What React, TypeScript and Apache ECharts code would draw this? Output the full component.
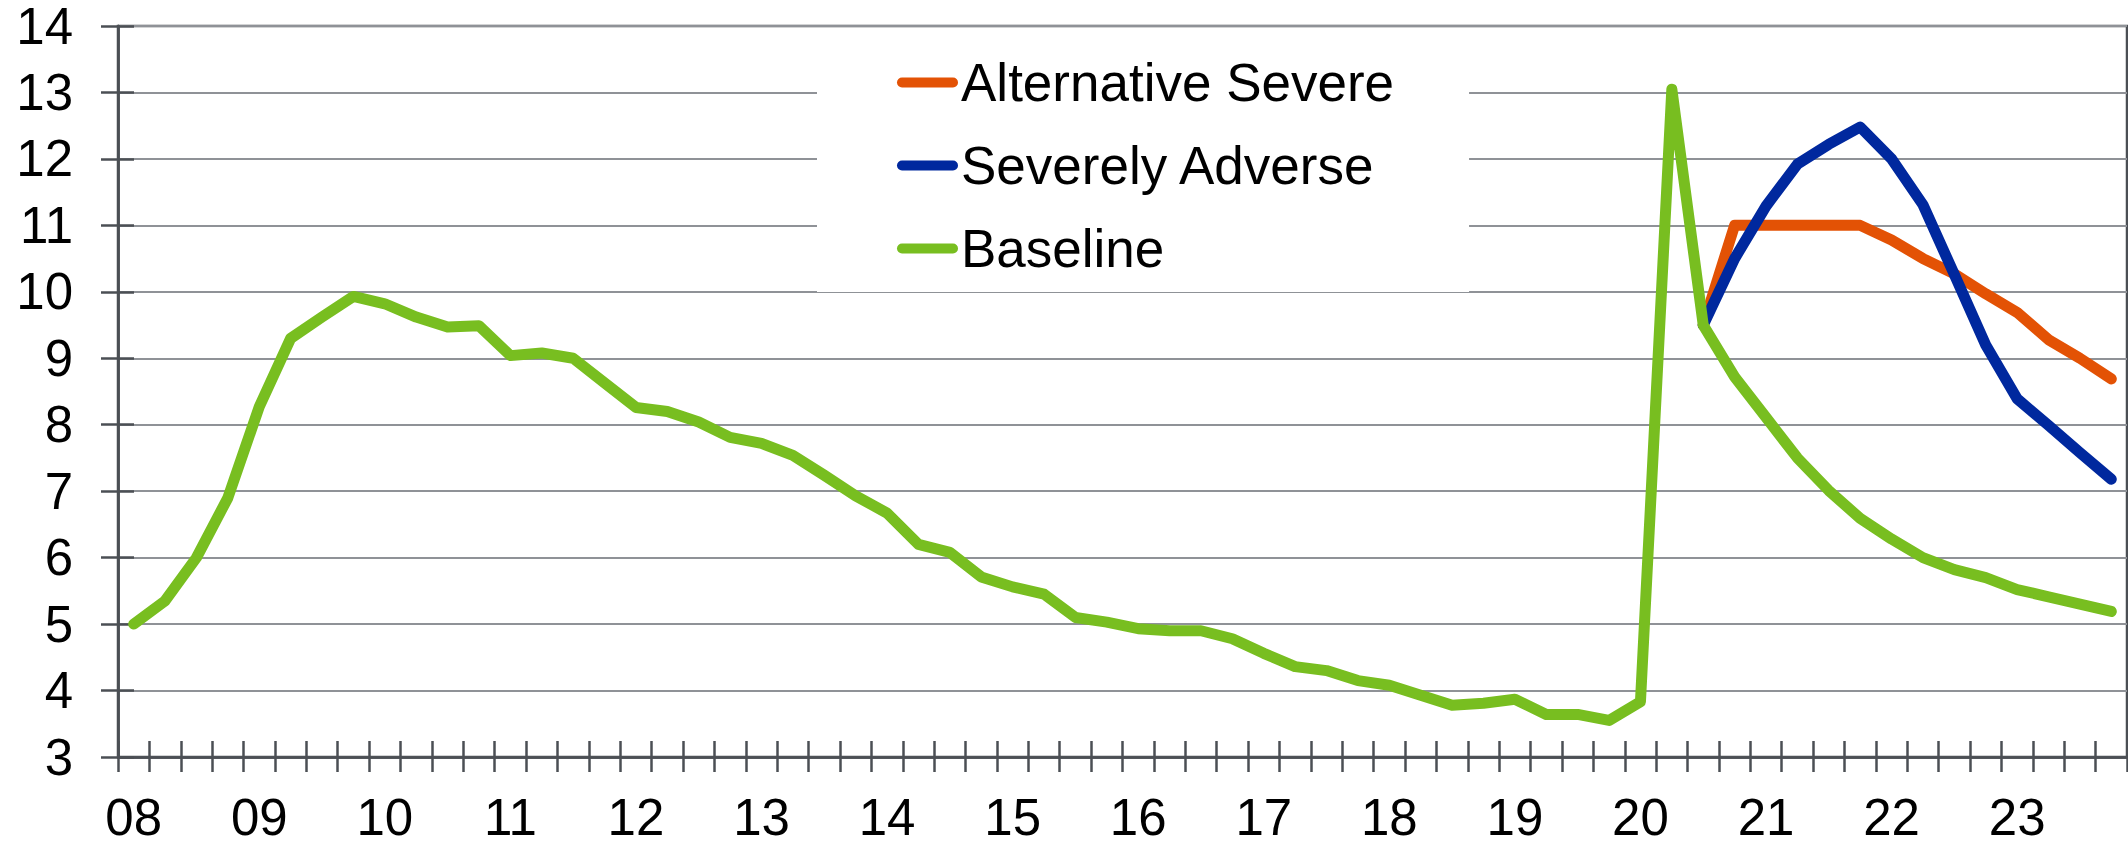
import React, { useEffect, useRef } from "react";
import * as echarts from "echarts";

const years = ["08", "09", "10", "11", "12", "13", "14", "15", "16", "17", "18", "19", "20", "21", "22", "23"];
const quarters = ["Q1", "Q2", "Q3", "Q4"];
const categories = years.flatMap((y) => quarters.map((q) => `${y} ${q}`));

const yTicks = { min: 3, max: 14, interval: 1 };

const baseline = [
  5.0, 5.35, 6.0, 6.9, 8.27, 9.3, 9.62, 9.93, 9.82, 9.62, 9.47, 9.49, 9.04, 9.08, 9.0, 8.63,
  8.26, 8.2, 8.04, 7.81, 7.72, 7.54, 7.24, 6.93, 6.67, 6.2, 6.08, 5.71, 5.56, 5.45, 5.1, 5.03,
  4.93, 4.9, 4.9, 4.78, 4.56, 4.36, 4.3, 4.15, 4.08, 3.93, 3.78, 3.81, 3.87, 3.64, 3.64, 3.55,
  3.83, 13.05, 9.5, 8.72, 8.11, 7.5, 7.01, 6.59, 6.28, 6.0, 5.82, 5.7, 5.52, 5.41, 5.3, 5.19,
];

const severelyAdverseTail = [9.5, 10.5, 11.29, 11.92, 12.22, 12.48, 12.0, 11.31, 10.26, 9.2, 8.39, 7.99, 7.58, 7.18];
const alternativeSevereTail = [9.5, 11.0, 11.0, 11.0, 11.0, 11.0, 10.78, 10.5, 10.27, 9.97, 9.69, 9.28, 9.0, 8.69];

const seriesNames = ["Alternative Severe", "Severely Adverse", "Baseline"];
const seriesColors = ["#E35205", "#00289E", "#78BE20"];

function padFront(tail: number[]): (number | null)[] {
  const n = categories.length - tail.length;
  return [...new Array(n).fill(null), ...tail];
}

const FONT = "'Liberation Sans', Arial, Helvetica, sans-serif";
const AXIS_COLOR = "#4B4F54";
const GRID_COLOR = "#8F9297";

export default function App() {
  const ref = useRef<HTMLDivElement>(null);

  useEffect(() => {
    if (!ref.current) return;
    const chart = echarts.init(ref.current, null, { renderer: "svg" });
    const seriesData = [padFront(alternativeSevereTail), padFront(severelyAdverseTail), baseline];

    const xCommon = {
      type: "category" as const,
      data: categories,
      boundaryGap: true,
      axisLine: { show: true, lineStyle: { color: AXIS_COLOR, width: 2.5 } },
      splitLine: { show: false },
    };
    const yCommon = {
      type: "value" as const,
      min: yTicks.min,
      max: yTicks.max,
      interval: yTicks.interval,
      axisLine: { show: true, lineStyle: { color: AXIS_COLOR, width: 2.5 } },
    };

    chart.setOption({
      animation: false,
      backgroundColor: "#ffffff",
      textStyle: { fontFamily: FONT },
      grid: {
        left: 118,
        right: 1,
        top: 26,
        bottom: 87,
        show: true,
        borderColor: AXIS_COLOR,
        borderWidth: 2.5,
        backgroundColor: "transparent",
      },
      legend: {
        orient: "vertical",
        left: 817,
        top: 30,
        padding: [26, 75, 17, 80],
        backgroundColor: "#ffffff",
        itemWidth: 61,
        itemHeight: 10,
        itemGap: 30,
        data: seriesNames.map((name) => ({
          name,
          icon: "path://M5 0H56A5 5 0 0 1 56 10H5A5 5 0 0 1 5 0Z",
        })),
        itemStyle: { borderWidth: 0 },
        textStyle: { fontSize: 53, color: "#000000", fontFamily: FONT, lineHeight: 53, padding: [0, 0, 0, -2] },
      },
      xAxis: [
        {
          ...xCommon,
          axisTick: { show: true, interval: 0, inside: false, length: 15, lineStyle: { color: AXIS_COLOR, width: 2.5 } },
          axisLabel: {
            show: true,
            interval: (index: number) => index % 4 === 0,
            formatter: (v: string) => v.split(" ")[0],
            fontSize: 51,
            lineHeight: 40,
            color: "#000000",
            fontFamily: FONT,
            margin: 40,
          },
        },
        {
          ...xCommon,
          position: "bottom",
          axisTick: { show: true, interval: 0, inside: true, length: 16, lineStyle: { color: AXIS_COLOR, width: 2.5 } },
          axisLabel: { show: false },
        },
      ],
      yAxis: [
        {
          ...yCommon,
          axisTick: { show: true, inside: false, length: 17, lineStyle: { color: AXIS_COLOR, width: 2.5 } },
          splitLine: { show: true, lineStyle: { color: GRID_COLOR, width: 2 } },
          axisLabel: { fontSize: 51, lineHeight: 40, color: "#000000", fontFamily: FONT, margin: 45 },
        },
        {
          ...yCommon,
          position: "left",
          offset: 0,
          axisTick: { show: true, inside: true, length: 16, lineStyle: { color: AXIS_COLOR, width: 2.5 } },
          splitLine: { show: false },
          axisLabel: { show: false },
        },
      ],
      series: seriesNames.map((name, i) => ({
        name,
        type: "line",
        xAxisIndex: 0,
        yAxisIndex: 0,
        data: seriesData[i],
        symbol: "none",
        color: seriesColors[i],
        itemStyle: { color: seriesColors[i] },
        lineStyle: { color: seriesColors[i], width: 11, cap: "round", join: "round" },
        connectNulls: false,
        z: 3 + i,
      })),
    });

    return () => chart.dispose();
  }, []);

  return (
    <div
      ref={ref}
      style={{ position: "fixed", left: 0, top: 0, width: 2128, height: 844, background: "#fff" }}
    />
  );
}
